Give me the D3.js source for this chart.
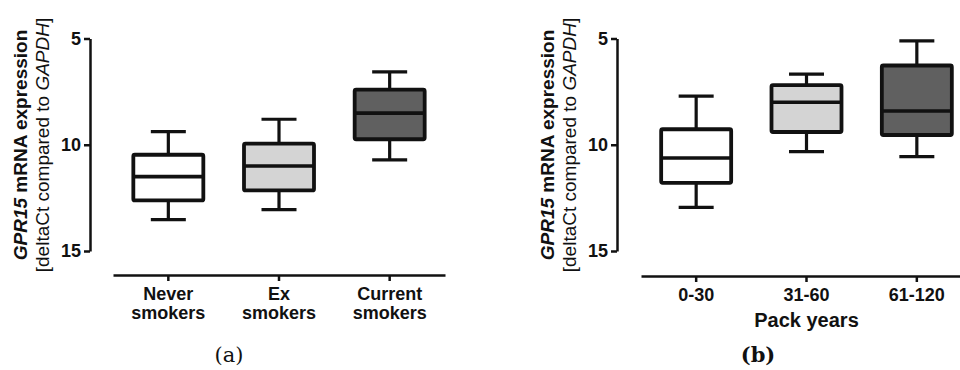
<!DOCTYPE html>
<html>
<head>
<meta charset="utf-8">
<script src="https://cdn.jsdelivr.net/npm/d3@7"></script>
<style>
  body { margin: 0; background: #fff; }
  svg text { font-family: "Liberation Sans", Arial, sans-serif; }
  .axis path, .axis line { stroke: #111; stroke-width: 2.5; }
  .axis text { font-size: 18px; font-weight: bold; fill: #111; }
</style>
</head>
<body>
<svg id="chart" width="960" height="370"></svg>
<script>
// Panel (a): smoking status
const smokingGroups = ['Never smokers', 'Ex smokers', 'Current smokers'];
const smokingMin = [9.38, 8.8, 6.57];
const smokingQ1 = [10.47, 9.95, 7.41];
const smokingMedian = [11.5, 11.0, 8.51];
const smokingQ3 = [12.62, 12.15, 9.74];
const smokingMax = [13.52, 13.05, 10.71];

// Panel (b): pack years
const packGroups = ['0-30', '31-60', '61-120'];
const packMin = [7.71, 6.68, 5.11];
const packQ1 = [9.27, 7.19, 6.27];
const packMedian = [10.62, 8.0, 8.41];
const packQ3 = [11.79, 9.4, 9.54];
const packMax = [12.95, 10.32, 10.56];

const yTicks = [5, 10, 15];
const boxFills = ['#ffffff', '#d4d4d4', '#606060'];

const svg = d3.select('#chart');

const drawPanel = (opts) => {
    const g = svg.append('g');

    const y = d3.scaleLinear().domain([5, 15]).range([38.5, 251]);
    const x = d3.scaleBand().domain(opts.groups).range(opts.xRange);

    // Y axis
    g.append('g')
        .attr('class', 'axis')
        .attr('transform', `translate(${opts.axisX},0)`)
        .call(d3.axisLeft(y).tickValues(yTicks).tickSize(6).tickSizeOuter(0).tickPadding(3));

    // X axis
    const xAxis = g.append('g')
        .attr('class', 'axis')
        .attr('transform', `translate(0,${opts.axisY})`)
        .call(d3.axisBottom(x).tickSize(6).tickSizeOuter(0).tickFormat(''));

    // category labels (split words onto lines)
    xAxis.selectAll('.tick').append('text')
        .attr('y', 25)
        .attr('text-anchor', 'middle')
        .selectAll('tspan')
        .data((d) => opts.multiline ? d.split(' ') : [d])
        .join('tspan')
        .attr('x', 0)
        .attr('dy', (d, i) => (i === 0 ? 0 : 19))
        .text((d) => d);

    // Boxes
    const boxW = 70;
    const capW = 35;
    const boxes = g.selectAll('.box')
        .data(opts.groups.map((name, i) => ({
            name,
            min: opts.min[i], q1: opts.q1[i], med: opts.median[i], q3: opts.q3[i], max: opts.max[i],
            fill: boxFills[i]
        })))
        .join('g')
        .attr('class', 'box')
        .attr('transform', (d) => `translate(${x(d.name) + x.bandwidth() / 2},0)`);

    boxes.append('line') // upper whisker
        .attr('x1', 0).attr('x2', 0)
        .attr('y1', (d) => y(d.min)).attr('y2', (d) => y(d.q1));
    boxes.append('line') // lower whisker
        .attr('x1', 0).attr('x2', 0)
        .attr('y1', (d) => y(d.q3)).attr('y2', (d) => y(d.max));
    boxes.append('line')
        .attr('x1', -capW / 2).attr('x2', capW / 2)
        .attr('y1', (d) => y(d.min)).attr('y2', (d) => y(d.min));
    boxes.append('line')
        .attr('x1', -capW / 2).attr('x2', capW / 2)
        .attr('y1', (d) => y(d.max)).attr('y2', (d) => y(d.max));
    boxes.selectAll('line')
        .attr('stroke', '#111')
        .attr('stroke-width', 3.2);

    boxes.append('rect')
        .attr('x', -boxW / 2)
        .attr('width', boxW)
        .attr('y', (d) => y(d.q1))
        .attr('height', (d) => y(d.q3) - y(d.q1))
        .attr('rx', 1.5)
        .attr('fill', (d) => d.fill)
        .attr('stroke', '#111')
        .attr('stroke-width', 3.8)
        .attr('stroke-linejoin', 'round');

    boxes.append('line') // median
        .attr('x1', -boxW / 2).attr('x2', boxW / 2)
        .attr('y1', (d) => y(d.med)).attr('y2', (d) => y(d.med))
        .attr('stroke', '#111')
        .attr('stroke-width', 3.6);

    // Y title, two rotated lines
    const title = g.append('text')
        .attr('transform', `translate(${opts.axisX - 63},145) rotate(-90)`)
        .attr('text-anchor', 'middle')
        .style('font-size', '19px')
        .attr('fill', '#111');
    title.append('tspan').attr('font-weight', 'bold').attr('font-style', 'italic').text('GPR15');
    title.append('tspan').attr('font-weight', 'bold').text(' mRNA expression');

    const title2 = g.append('text')
        .attr('transform', `translate(${opts.axisX - 41},145) rotate(-90)`)
        .attr('text-anchor', 'middle')
        .style('font-size', '19px')
        .attr('fill', '#111');
    title2.append('tspan').text('[deltaCt compared to ');
    title2.append('tspan').attr('font-style', 'italic').text('GAPDH');
    title2.append('tspan').text(']');

    if (opts.xTitle) {
        g.append('text')
            .attr('x', x(opts.groups[1]) + x.bandwidth() / 2)
            .attr('y', opts.axisY + 51)
            .attr('text-anchor', 'middle')
            .style('font-size', '20px')
            .attr('font-weight', 'bold')
            .attr('fill', '#111')
            .text(opts.xTitle);
    }

    // panel letter
    g.append('text')
        .attr('x', opts.letterX)
        .attr('y', 362)
        .attr('text-anchor', 'middle')
        .style('font-family', '"DejaVu Serif", "Liberation Serif", serif')
        .style('font-size', '21px')
        .attr('font-weight', opts.letterBold ? 'bold' : 'normal')
        .attr('fill', '#111')
        .text(opts.letter);
};

drawPanel({
    groups: smokingGroups,
    min: smokingMin, q1: smokingQ1, median: smokingMedian, q3: smokingQ3, max: smokingMax,
    axisX: 90, axisY: 275, xRange: [113, 445],
    multiline: true,
    letter: '(a)', letterX: 229, letterBold: false
});

drawPanel({
    groups: packGroups,
    min: packMin, q1: packQ1, median: packMedian, q3: packQ3, max: packMax,
    axisX: 617, axisY: 276, xRange: [641, 972],
    multiline: false,
    xTitle: 'Pack years',
    letter: '(b)', letterX: 758, letterBold: true
});
</script>
</body>
</html>
